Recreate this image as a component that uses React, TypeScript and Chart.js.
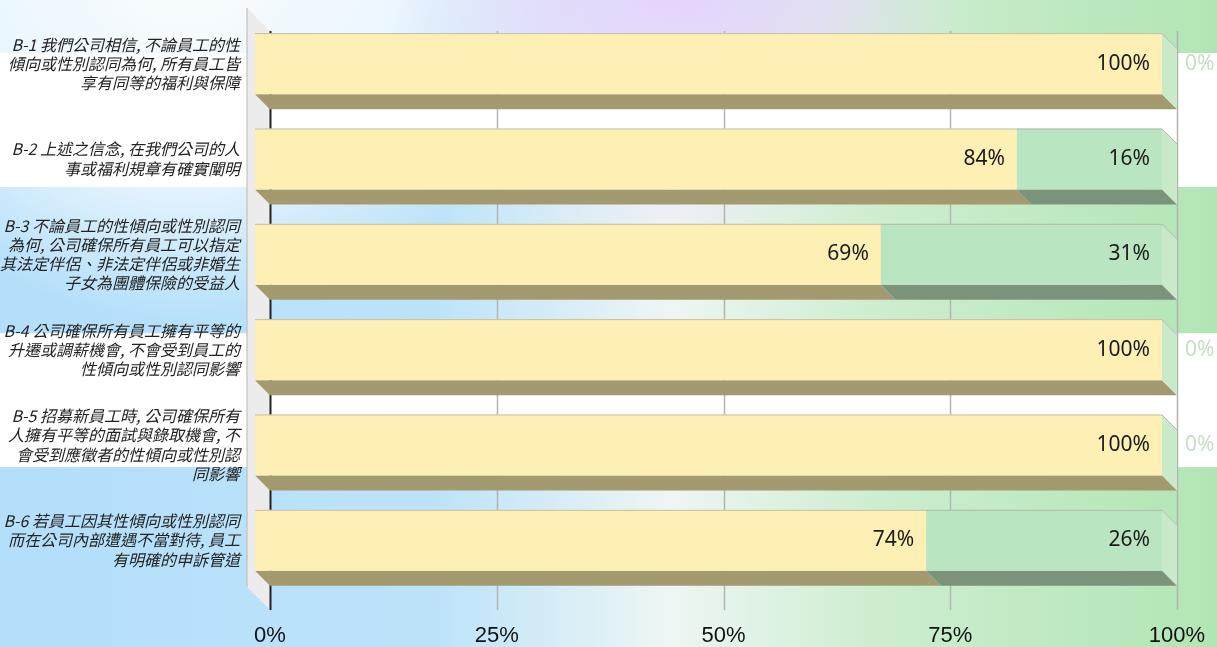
import React, { useEffect, useRef } from "react";
import { Chart, registerables } from "chart.js";

Chart.register(...registerables);

const categoryLabels: string[][] = [
  ["B-1 我們公司相信, 不論員工的性", "傾向或性別認同為何, 所有員工皆", "享有同等的福利與保障"],
  ["B-2 上述之信念, 在我們公司的人", "事或福利規章有確實闡明"],
  ["B-3 不論員工的性傾向或性別認同", "為何, 公司確保所有員工可以指定", "其法定伴侶、非法定伴侶或非婚生", "子女為團體保險的受益人"],
  ["B-4 公司確保所有員工擁有平等的", "升遷或調薪機會, 不會受到員工的", "性傾向或性別認同影響"],
  ["B-5 招募新員工時, 公司確保所有", "人擁有平等的面試與錄取機會, 不", "會受到應徵者的性傾向或性別認", "同影響"],
  ["B-6 若員工因其性傾向或性別認同", "而在公司內部遭遇不當對待, 員工", "有明確的申訴管道"],
];
const agreeValues = [100, 84, 69, 100, 100, 74];
const disagreeValues = [0, 16, 31, 0, 0, 26];
const xTickLabels = ["0%", "25%", "50%", "75%", "100%"];

const DEPTH = 15;
const WALL_DEPTH = 23;
const GRID_EXTRA = 7;

const backgroundPlugin = {
  id: "bg3d",
  beforeDraw(chart: any) {
    const { ctx, width, height, chartArea } = chart;
    ctx.save();
    const g = ctx.createLinearGradient(0, 0, width, 0);
    g.addColorStop(0, "#b3dffb");
    g.addColorStop(0.36, "#bde3fa");
    g.addColorStop(0.55, "#eef6f4");
    g.addColorStop(0.72, "#cdeed0");
    g.addColorStop(1, "#b2e5b4");
    ctx.fillStyle = g;
    ctx.fillRect(0, 0, width, height);
    const w = ctx.createRadialGradient(180, -60, 0, 180, -60, 380);
    w.addColorStop(0, "rgba(255,255,255,0.95)");
    w.addColorStop(0.6, "rgba(255,255,255,0.7)");
    w.addColorStop(1, "rgba(255,255,255,0)");
    ctx.fillStyle = w;
    ctx.fillRect(0, 0, width, height);
    const p = ctx.createRadialGradient(680, -40, 0, 680, -40, 300);
    p.addColorStop(0, "rgba(226,208,252,1)");
    p.addColorStop(0.5, "rgba(230,216,252,0.7)");
    p.addColorStop(1, "rgba(235,225,252,0)");
    ctx.fillStyle = p;
    ctx.fillRect(0, 0, width, height);
    ctx.fillStyle = "#ffffff";
    ctx.fillRect(0, height * 0.082, width, height * 0.207);
    ctx.fillRect(0, height * 0.515, width, height * 0.207);

    const l = chartArea.left;
    const t = chartArea.top;
    const b = chartArea.bottom + GRID_EXTRA;
    ctx.beginPath();
    ctx.moveTo(l - WALL_DEPTH, t - WALL_DEPTH);
    ctx.lineTo(l, t);
    ctx.lineTo(l, b);
    ctx.lineTo(l - WALL_DEPTH, b - WALL_DEPTH);
    ctx.closePath();
    ctx.fillStyle = "#ececec";
    ctx.fill();
    ctx.beginPath();
    ctx.moveTo(l - WALL_DEPTH, t - WALL_DEPTH);
    ctx.lineTo(l - WALL_DEPTH, b - WALL_DEPTH);
    ctx.strokeStyle = "#b8b8b8";
    ctx.lineWidth = 1;
    ctx.stroke();

    const xs = chart.scales.x;
    xs.ticks.forEach((tk: any, i: number) => {
      const px = Math.round(xs.getPixelForValue(tk.value)) + 0.5;
      ctx.beginPath();
      ctx.moveTo(px, t);
      ctx.lineTo(px, b);
      ctx.strokeStyle = i === 0 ? "#222222" : "#b4b4b4";
      ctx.lineWidth = i === 0 ? 2 : 1.5;
      ctx.stroke();
    });
    ctx.restore();
  },
};

const bars3dPlugin = {
  id: "bars3d",
  afterDatasetsDraw(chart: any) {
    const ctx = chart.ctx;
    const metas = chart.getSortedVisibleDatasetMetas();
    const n = chart.data.labels.length;
    ctx.save();
    for (let i = 0; i < n; i++) {
      let endX = 0;
      let top = 0;
      let bottom = 0;
      let cy = 0;
      metas.forEach((meta: any) => {
        const ds = chart.data.datasets[meta.index];
        const el = meta.data[i];
        const { x, y, base, height } = el.getProps(["x", "y", "base", "height"], true);
        const x0 = Math.min(base, x);
        const x1 = Math.max(base, x);
        top = y - height / 2;
        bottom = y + height / 2;
        cy = y;
        endX = x1;
        ctx.beginPath();
        ctx.moveTo(x0 - DEPTH, bottom - DEPTH);
        ctx.lineTo(x1 - DEPTH, bottom - DEPTH);
        ctx.lineTo(x1, bottom);
        ctx.lineTo(x0, bottom);
        ctx.closePath();
        ctx.fillStyle = ds.bottomColor;
        ctx.fill();
        if (x1 > x0) {
          ctx.fillStyle = ds.frontColor;
          ctx.fillRect(x0 - DEPTH, top - DEPTH, x1 - x0, height);
        }
      });
      const firstEl = metas[0].data[i];
      const startX = Math.min(firstEl.base, firstEl.x);
      ctx.beginPath();
      ctx.moveTo(endX - DEPTH, top - DEPTH);
      ctx.lineTo(endX, top);
      ctx.lineTo(endX, bottom);
      ctx.lineTo(endX - DEPTH, bottom - DEPTH);
      ctx.closePath();
      ctx.fillStyle = "#c9eac9";
      ctx.fill();
      ctx.beginPath();
      ctx.moveTo(startX - DEPTH, top - DEPTH + 0.5);
      ctx.lineTo(endX - DEPTH, top - DEPTH + 0.5);
      ctx.lineTo(endX, top + 0.5);
      ctx.strokeStyle = "rgba(170,170,160,0.7)";
      ctx.lineWidth = 1;
      ctx.stroke();

      metas.forEach((meta: any) => {
        const ds = chart.data.datasets[meta.index];
        const el = meta.data[i];
        const v = ds.data[i];
        const x1 = Math.max(el.base, el.x);
        ctx.font = '21px "Noto Sans", sans-serif';
        ctx.textBaseline = "middle";
        if (v > 0) {
          ctx.textAlign = "right";
          ctx.fillStyle = "#1a1a1a";
          ctx.fillText(v + "%", x1 - DEPTH - 12, cy - DEPTH);
        } else {
          ctx.textAlign = "left";
          ctx.fillStyle = "#c6dfc6";
          ctx.fillText(v + "%", x1 + 8, cy - DEPTH);
        }
      });
    }
    ctx.restore();
  },
};

export default function App() {
  const ref = useRef<HTMLCanvasElement | null>(null);
  useEffect(() => {
    if (!ref.current) return;
    const chart = new Chart(ref.current, {
      type: "bar",
      data: {
        labels: categoryLabels as any,
        datasets: [
          {
            label: "是",
            data: agreeValues,
            backgroundColor: "rgba(0,0,0,0)",
            frontColor: "#fef0b4",
            bottomColor: "#a39a70",
            categoryPercentage: 1,
            barPercentage: 0.64,
          } as any,
          {
            label: "否",
            data: disagreeValues,
            backgroundColor: "rgba(0,0,0,0)",
            frontColor: "#b9e6c1",
            bottomColor: "#7a937a",
            categoryPercentage: 1,
            barPercentage: 0.64,
          } as any,
        ],
      },
      options: {
        indexAxis: "y",
        responsive: false,
        animation: false,
        layout: { padding: { top: 31, right: 40, left: 0, bottom: 0 } },
        plugins: { legend: { display: false }, tooltip: { enabled: false } },
        scales: {
          x: {
            stacked: true,
            min: 0,
            max: 100,
            grid: { display: false, drawTicks: false },
            border: { display: false },
            ticks: {
              stepSize: 25,
              padding: 20,
              color: "#111",
              font: { family: '"Liberation Sans", Arial, sans-serif', size: 22 },
              callback: (_v: any, i: number) => xTickLabels[i],
            },
            afterFit: (s: any) => {
              s.height = 44;
              s.paddingLeft = 0;
              s.paddingRight = 0;
            },
          },
          y: {
            stacked: true,
            grid: { display: false, drawTicks: false },
            border: { display: false },
            ticks: {
              padding: 30,
              labelOffset: -15,
              color: "#222",
              font: { family: '"Noto Sans CJK TC", sans-serif', size: 16, style: "italic", lineHeight: 1.2 },
            },
            afterFit: (s: any) => {
              s.width = 270;
              s.paddingTop = 0;
              s.paddingBottom = 0;
            },
          },
        },
      } as any,
      plugins: [backgroundPlugin, bars3dPlugin],
    });
    return () => chart.destroy();
  }, []);
  return (
    <div style={{ position: "fixed", left: 0, top: 0, width: 1217, height: 647 }}>
      <canvas ref={ref} width={1217} height={647} style={{ display: "block" }} />
    </div>
  );
}
